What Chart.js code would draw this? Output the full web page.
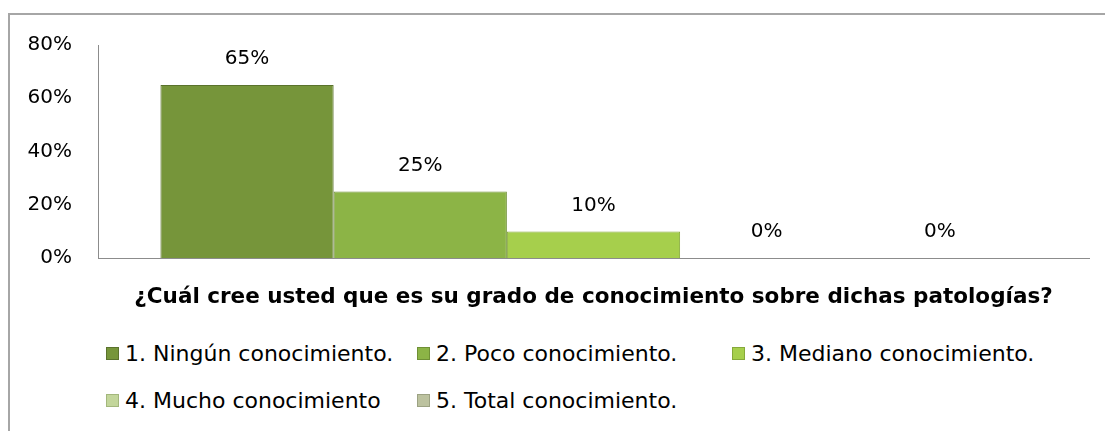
<!DOCTYPE html>
<html>
<head>
<meta charset="utf-8">
<script src="https://cdn.jsdelivr.net/npm/chart.js@4/dist/chart.umd.min.js"></script>
<style>
  body { margin: 0; background: #fff; font-family: "DejaVu Sans", sans-serif; }
  #wrap { position: relative; width: 1105px; height: 431px; overflow: hidden; }
  #frame { position: absolute; left: 8px; top: 13px; width: 1200px; height: 500px;
           border-left: 2px solid #a6a6a6; border-top: 2px solid #a6a6a6; }
  #chartBox { position: absolute; left: 0; top: 0; width: 1105px; height: 330px; }
  #legend { position: absolute; left: 106px; top: 339px; display: grid;
            grid-template-columns: 311px 315px 320px; row-gap: 19px; font-size: 22px; color: #000; }
  .item { display: flex; align-items: center; height: 28px; white-space: nowrap; }
  .sw { width: 13px; height: 13px; margin-right: 6px; box-sizing: border-box; }
</style>
</head>
<body>
<div id="wrap">
  <div id="frame"></div>
  <div id="chartBox"><canvas id="chart"></canvas></div>
  <div id="legend"></div>
</div>
<script>
const categories = [''];
const seriesNames = [
  '1. Ningún conocimiento.',
  '2. Poco conocimiento.',
  '3. Mediano conocimiento.',
  '4. Mucho conocimiento',
  '5. Total conocimiento.'
];
const seriesValues = [65, 25, 10, 0, 0];
const seriesColors = ['#76953a', '#8cb446', '#a6cf4c', '#c3d69b', '#bcc29f'];
const seriesBorders = ['#5a722c', '#6f9035', '#86a93a', '#a3b77c', '#9ca283'];
const yTicks = [0, 20, 40, 60, 80];
const axisTitle = '¿Cuál cree usted que es su grado de conocimiento sobre dichas patologías?';

// value labels above each bar
const barLabels = {
  id: 'barLabels',
  afterDatasetsDraw(chart) {
    const ctx = chart.ctx;
    ctx.save();
    ctx.font = '20px "DejaVu Sans"';
    ctx.fillStyle = '#000';
    ctx.textAlign = 'center';
    ctx.textBaseline = 'middle';
    chart.data.datasets.forEach((ds, i) => {
      chart.getDatasetMeta(i).data.forEach((bar, j) => {
        ctx.fillText(ds.data[j] + '%', bar.x, bar.y - 26);
      });
    });
    ctx.restore();
  }
};

const ctx = document.getElementById('chart').getContext('2d');
new Chart(ctx, {
  type: 'bar',
  data: {
    labels: categories,
    datasets: seriesNames.map((name, i) => ({
      label: name,
      data: [seriesValues[i]],
      backgroundColor: seriesColors[i],
      borderColor: seriesBorders[i],
      borderWidth: 1
    }))
  },
  options: {
    responsive: true,
    maintainAspectRatio: false,
    animation: false,
    categoryPercentage: 0.874,
    barPercentage: 1.0,
    layout: { padding: { top: 45, right: 16, left: 0, bottom: 0 } },
    plugins: {
      legend: { display: false },
      tooltip: { enabled: false }
    },
    scales: {
      y: {
        min: 0,
        max: 80,
        afterFit: s => { s.width = 98; },
        afterBuildTicks: s => { s.ticks = yTicks.map(v => ({ value: v })); },
        grid: { display: false, drawTicks: false },
        border: { color: '#8c8c8c', width: 1 },
        ticks: {
          padding: 26,
          color: '#000',
          font: { family: 'DejaVu Sans', size: 20 },
          callback: v => v + '%'
        }
      },
      x: {
        afterFit: s => { s.height = 72; },
        grid: { display: false },
        border: { color: '#8c8c8c', width: 1 },
        ticks: { display: false },
        title: {
          display: true,
          text: axisTitle,
          color: '#000',
          padding: { top: 0, bottom: 20 },
          font: { family: 'DejaVu Sans', size: 21.5, weight: 'bold' }
        }
      }
    }
  },
  plugins: [barLabels]
});

// legend
const legend = document.getElementById('legend');
seriesNames.forEach((name, i) => {
  const item = document.createElement('div');
  item.className = 'item';
  const sw = document.createElement('span');
  sw.className = 'sw';
  sw.style.background = seriesColors[i];
  sw.style.border = '1px solid ' + seriesBorders[i];
  item.appendChild(sw);
  item.appendChild(document.createTextNode(name));
  legend.appendChild(item);
});
</script>
</body>
</html>
